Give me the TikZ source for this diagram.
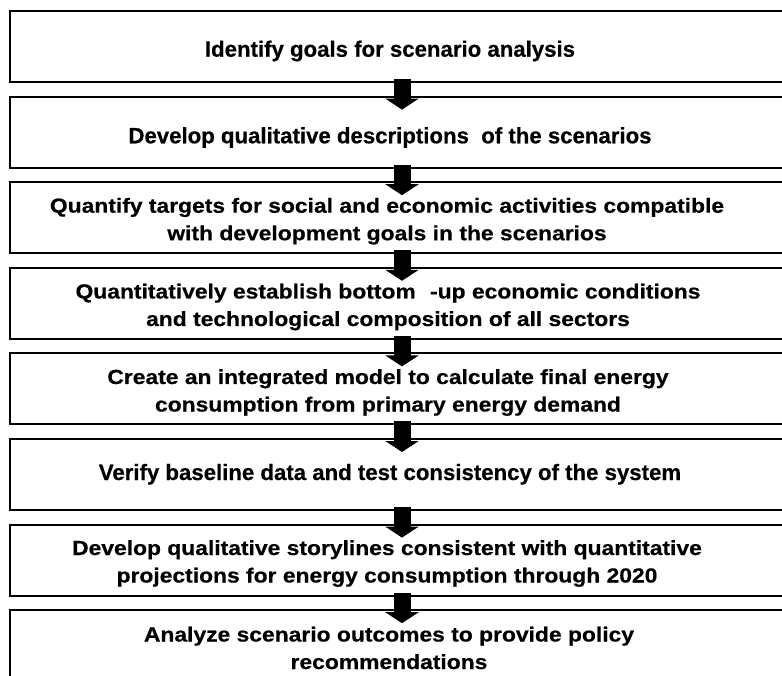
\documentclass[tikz,border=0pt]{standalone}
\usepackage{fontspec}
\setmainfont{Liberation Sans}[FakeBold=0.5]
\newfontfamily\widesans{Liberation Sans}[FakeStretch=1.12,FakeBold=0.5]
\usetikzlibrary{arrows.meta,calc}
\begin{document}
\begin{tikzpicture}[x=1pt,y=-1pt,
  box/.style={draw, line width=2pt, minimum width=800pt, minimum height=71pt, anchor=north west, inner sep=0pt, outer sep=0pt},
  lbl/.style={font=\bfseries\fontsize{22.2}{26}\selectfont, inner sep=0pt, anchor=base},
  lbltwo/.style={font=\widesans\bfseries\fontsize{20.4}{26}\selectfont, inner sep=0pt, anchor=base},
  flow/.style={line width=17pt, -{Triangle[width=33pt,length=11pt]}}]
\useasboundingbox (0,0) rectangle (782,676);
\clip (0,0) rectangle (782,676);
\coordinate (ax) at (402,0);
\node[box] (b1) at (9.5,11) {};
\node[box] (b2) at (9.5,96.6) {};
\node[box] (b3) at (9.5,182.2) {};
\node[box] (b4) at (9.5,267.8) {};
\node[box] (b5) at (9.5,353.4) {};
\node[box] (b6) at (9.5,439) {};
\node[box] (b7) at (9.5,524.6) {};
\node[box] (b8) at (9.5,610.2) {};
\node[lbl] (t1) at (390,56.7) {Identify goals for scenario analysis};
\node[lbl] (t2) at (390,143.3) {Develop qualitative descriptions\ \ of the scenarios};
\node[lbltwo] (t3a) at (387,212.7) {Quantify targets for social and economic activities compatible};
\node[lbltwo] (t3b) at (387,240.2) {with development goals in the scenarios};
\node[lbltwo] (t4a) at (388,298.5) {Quantitatively establish bottom\hspace{0.7em}-up economic conditions};
\node[lbltwo] (t4b) at (388,326) {and technological composition of all sectors};
\node[lbltwo] (t5a) at (388,384) {Create an integrated model to calculate final energy};
\node[lbltwo] (t5b) at (388,411.5) {consumption from primary energy demand};
\node[lbl] (t6) at (390,480) {Verify baseline data and test consistency of the system};
\node[lbltwo] (t7a) at (387,555) {Develop qualitative storylines consistent with quantitative};
\node[lbltwo] (t7b) at (387,582.5) {projections for energy consumption through 2020};
\node[lbltwo] (t8a) at (389,641.5) {Analyze scenario outcomes to provide policy};
\node[lbltwo] (t8b) at (389,669) {recommendations};
\draw[flow] ($(b1.south -| ax)+(0,-3)$) -- ($(b2.north -| ax)+(0,13)$);
\draw[flow] ($(b2.south -| ax)+(0,-3)$) -- ($(b3.north -| ax)+(0,13)$);
\draw[flow] ($(b3.south -| ax)+(0,-3)$) -- ($(b4.north -| ax)+(0,13)$);
\draw[flow] ($(b4.south -| ax)+(0,-3)$) -- ($(b5.north -| ax)+(0,13)$);
\draw[flow] ($(b5.south -| ax)+(0,-3)$) -- ($(b6.north -| ax)+(0,13)$);
\draw[flow] ($(b6.south -| ax)+(0,-3)$) -- ($(b7.north -| ax)+(0,13)$);
\draw[flow] ($(b7.south -| ax)+(0,-3)$) -- ($(b8.north -| ax)+(0,13)$);
\end{tikzpicture}
\end{document}
